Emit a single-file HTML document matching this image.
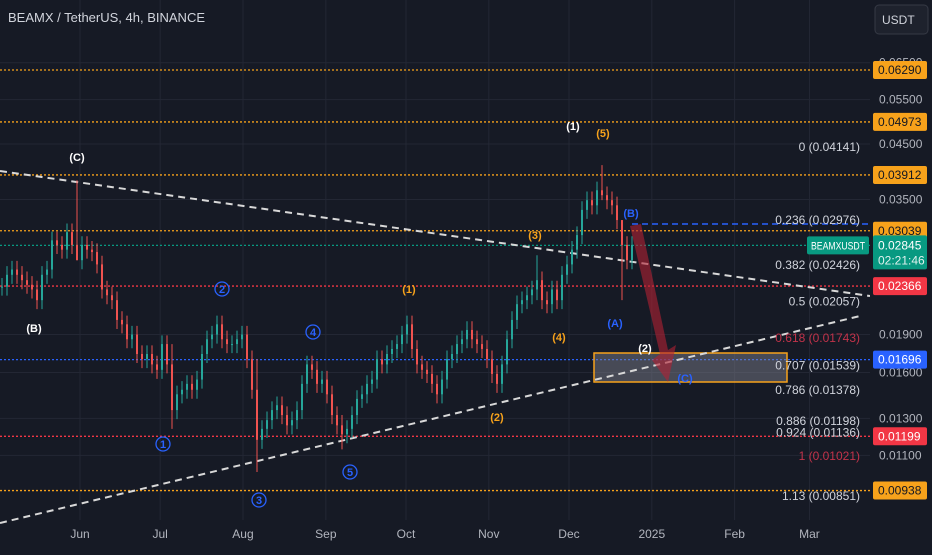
<!DOCTYPE html>
<html><head><meta charset="utf-8">
<style>
html,body{margin:0;padding:0;background:#161a25;}
body{width:932px;height:550px;overflow:hidden;position:relative;font-family:"Liberation Sans",sans-serif;}
svg text{font-family:"Liberation Sans",sans-serif;}
</style></head>
<body>
<svg id="chart" width="932" height="550" viewBox="0 0 932 550" xmlns="http://www.w3.org/2000/svg">
<rect x="0" y="0" width="932" height="550" fill="#161a25"/>
<g id="grid"></g>
<g id="hlines"></g>
<rect x="594" y="353" width="193" height="29" fill="rgba(130,134,146,0.45)" stroke="#f7a21b" stroke-width="1.5"/>
<g id="trend">
<line x1="0" y1="171" x2="870" y2="296" stroke="#d8d8d8" stroke-width="2" stroke-dasharray="7,5"/>
<line x1="0" y1="523" x2="860" y2="316" stroke="#d8d8d8" stroke-width="2" stroke-dasharray="7,5"/>
<line x1="632" y1="224" x2="870" y2="224" stroke="#2962ff" stroke-width="1.5" stroke-dasharray="6,4"/>
</g>
<g id="candles"></g>
<polygon points="630,226 641,224 668,350 676,345 668,382 652,360 660,354" fill="rgba(178,34,52,0.6)"/>
<g id="fib" font-size="12" text-anchor="end"></g>
<g id="waves" font-size="11" text-anchor="middle"></g>
<rect x="870" y="0" width="62" height="550" fill="#161a25"/>
<g id="yaxis" font-size="12" fill="#b2b5be"></g>
<g id="xaxis" font-size="12" fill="#b2b5be" text-anchor="middle"></g>
<text x="8" y="22" fill="#d1d4dc" font-size="13">BEAMX / TetherUS, 4h, BINANCE</text>
<rect x="875" y="5" width="53" height="29" rx="4" fill="#1e222d" stroke="#363a45"/>
<text x="882" y="24" fill="#d1d4dc" font-size="12">USDT</text>
</svg>
<script>
const closes=[.0236,.0249,.0255,.0249,.0243,.0238,.0233,.0222,.0249,.0255,.0291,.0285,.0279,.0302,.0285,.0266,.0285,.0279,.0276,.0261,
.0233,.0227,.0222,.0203,.0199,.0186,.0190,.0174,.0170,.0174,.0166,.0162,.0182,.0166,.0135,.0145,.0148,.0152,.0148,.0155,
.0174,.0186,.0190,.0199,.0186,.0182,.0182,.0186,.0190,.0170,.0148,.0118,.0124,.0129,.0135,.0138,.0132,.0126,.0129,.0135,
.0152,.0166,.0162,.0152,.0155,.0145,.0132,.0126,.0121,.0124,.0132,.0142,.0145,.0152,.0155,.0170,.0166,.0174,.0178,.0182,
.0190,.0199,.0178,.0166,.0162,.0159,.0152,.0145,.0155,.0170,.0174,.0182,.0186,.0194,.0186,.0182,.0178,.0170,.0159,.0152,
.0166,.0186,.0203,.0218,.0222,.0227,.0233,.0243,.0222,.0218,.0233,.0222,.0249,.0261,.0279,.0298,.0334,.0349,.0341,.0365,
.0357,.0349,.0341,.0319,.0285,.0266,.0285];
const spikeIdx=[15,34,51,68,107,120,124];
const spikeHigh=[.0382,.0182,.0170,.0132,.0272,.0409,.0291];
const spikeLow=[.0266,.0124,.0102,.0113,.0222,.0349,.0222];
const priceTicks=[0.065,0.055,0.045,0.035,0.019,0.016,0.013,0.011];
const priceTickText=["0.06500","0.05500","0.04500","0.03500","0.01900","0.01600","0.01300","0.01100"];
const months=["Jun","Jul","Aug","Sep","Oct","Nov","Dec","2025","Feb","Mar"];
const monthDay=[0,30,61,92,122,153,183,214,245,273];
const levels=[0.0629,0.04973,0.03912,0.03039,0.02845,0.02366,0.01696,0.01199,0.00938];
const levelColors=["#f7a21b","#f7a21b","#f7a21b","#f7a21b","#089981","#f23645","#2962ff","#f23645","#f7a21b"];
const levelText=["0.06290","0.04973","0.03912","0.03039","0.02845","0.02366","0.01696","0.01199","0.00938"];
const fibRatio=["0","0.236","0.382","0.5","0.618","0.707","0.786","0.886","0.924","1","1.13"];
const fibPrice=[0.04141,0.02976,0.02426,0.02057,0.01743,0.01539,0.01378,0.01198,0.01136,0.01021,0.00851];
const NS="http://www.w3.org/2000/svg";
function y(p){return 70+(Math.log(0.0629)-Math.log(p))*221;}
function fy(r){return 147+r*309;}
function xi(i){return i*5+2;}
function xd(d){return 80+d*2.672;}
function mk(tag,attrs,parent){const e=document.createElementNS(NS,tag);for(const k in attrs)e.setAttribute(k,attrs[k]);parent.appendChild(e);return e;}
const grid=document.getElementById('grid');
monthDay.forEach(d=>{const l=mk('line',{x1:xd(d),x2:xd(d),y1:0,y2:520,stroke:'#232734','stroke-width':1},grid);

});
priceTicks.forEach(p=>{const l=mk('line',{x1:0,x2:870,y1:y(p),y2:y(p),stroke:'#232734','stroke-width':1},grid);

});
const hl=document.getElementById('hlines');
levels.forEach((p,i)=>{const l=mk('line',{x1:0,x2:870,y1:y(p),y2:y(p),stroke:levelColors[i],'stroke-width':1.3,'stroke-dasharray':'2,2'},hl);

});
const cg=document.getElementById('candles');
closes.forEach((c,i)=>{
 const o=i===0?c:closes[i-1];
 let hi=Math.max(o,c)*1.04, lo=Math.min(o,c)*0.96;
 const s=spikeIdx.indexOf(i);
 if(s>=0){hi=spikeHigh[s];lo=spikeLow[s];}
 const col=c>=o?'#26a69a':'#ef5350';
 const w=mk('line',{x1:xi(i),x2:xi(i),y1:y(hi),y2:y(lo),stroke:col,'stroke-width':1},cg);
 
 
 const b=mk('rect',{x:xi(i)-1,y:Math.min(y(o),y(c)),width:2,height:Math.max(1,Math.abs(y(o)-y(c))),fill:col},cg);
 
 
});
const fg=document.getElementById('fib');
fibRatio.forEach((r,i)=>{const red=(r==="0.618"||r==="1");
 const t=mk('text',{x:860,y:fy(parseFloat(r))+4,fill:red?'#c2334a':'#d1d4dc'},fg);
 t.textContent=r+" ("+fibPrice[i].toFixed(5)+")";
 
 });
const ya=document.getElementById('yaxis');
priceTicks.forEach((p,i)=>{const t=mk('text',{x:879,y:y(p)+4},ya);t.textContent=priceTickText[i];
 
 });
levels.forEach((p,i)=>{if(i===4)return;
 const r=mk('rect',{x:873,y:y(p)-9,width:54,height:18,rx:2,fill:levelColors[i]},ya);
 
 
 const t=mk('text',{x:878,y:y(p)+4,fill:levelColors[i]==='#f7a21b'?'#131722':'#ffffff'},ya);t.textContent=levelText[i];
 
 });
(function(){const p=0.02845,cy=y(p);
 const r=mk('rect',{x:873,y:cy-10,width:54,height:34,rx:2,fill:'#089981'},ya);
 
 
 const t=mk('text',{x:878,y:cy+4,fill:'#fff'},ya);t.textContent="0.02845";
 
 
 const t2=mk('text',{x:878,y:cy+19,fill:'#e0f2ef'},ya);t2.textContent="02:21:46";
 
 
 const r2=mk('rect',{x:807,y:cy-9,width:62,height:18,rx:2,fill:'#089981'},ya);
 
 
 const t3=mk('text',{x:811,y:cy+4,fill:'#fff','font-size':11,textLength:54,lengthAdjust:'spacingAndGlyphs'},ya);t3.textContent="BEAMXUSDT";
 
 
})();
const xa=document.getElementById('xaxis');
months.forEach((m,i)=>{const t=mk('text',{x:xd(monthDay[i]),y:538},xa);t.textContent=m;
 
 });
const waveText=["(C)","(B)","1","2","3","4","5","(1)","(2)","(3)","(4)","(5)","(1)","(B)","(A)","(2)","(C)"];
const waveX=[77,34,163,222,259,313,350,409,497,535,559,603,573,631,615,645,685];
const waveY=[157,328,444,289,500,332,472,289,417,235,337,133,126,213,323,348,378];
const waveCol=["#fff","#fff","#2962ff","#2962ff","#2962ff","#2962ff","#2962ff","#f7a21b","#f7a21b","#f7a21b","#f7a21b","#f7a21b","#fff","#2962ff","#2962ff","#fff","#2962ff"];
const wg=document.getElementById('waves');
waveText.forEach((w,i)=>{
 if(/^\d$/.test(w)){const c=mk('circle',{cx:waveX[i],cy:waveY[i],r:7,fill:'none',stroke:waveCol[i],'stroke-width':1.3},wg);
  
  }
 const t=mk('text',{x:waveX[i],y:waveY[i]+4,fill:waveCol[i],'font-weight':'bold'},wg);t.textContent=w;
 
 
});
</script>
</body></html>
